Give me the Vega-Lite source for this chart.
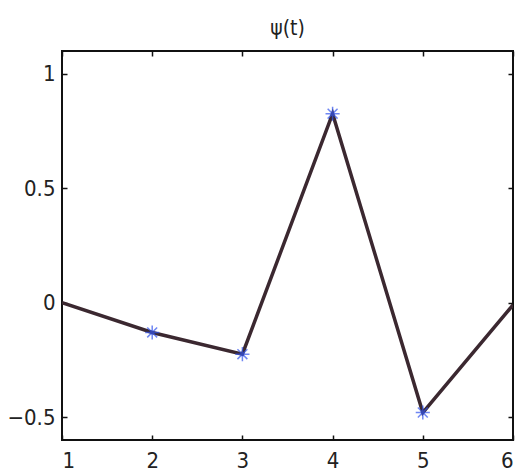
{
  "$schema": "https://vega.github.io/schema/vega-lite/v6.json",
  "autosize": "none",
  "width": 451,
  "height": 389,
  "padding": {"left": 62, "top": 51, "right": 4, "bottom": 34},
  "background": "white",
  "title": {"text": "ψ(t)", "fontSize": 21, "font": "DejaVu Sans Condensed, sans-serif", "fontWeight": "normal", "color": "#222", "offset": 11},
  "config": {
    "view": {"stroke": "#111", "strokeWidth": 2},
    "axis": {"grid": false, "domain": false, "tickColor": "#111", "tickWidth": 1.5, "tickSize": -5, "labelFont": "DejaVu Sans Condensed, sans-serif", "labelFontSize": 22, "labelColor": "#222", "title": null}
  },
  "data": {"values": [
    {"t": 1, "psi": 0},
    {"t": 2, "psi": -0.13},
    {"t": 3, "psi": -0.225},
    {"t": 4, "psi": 0.826},
    {"t": 5, "psi": -0.48},
    {"t": 6, "psi": -0.01}
  ]},
  "resolve": {"axis": {"x": "independent", "y": "independent"}},
  "layer": [
    {
      "mark": {"type": "line", "color": "#3b2830", "strokeWidth": 3.5, "clip": true},
      "encoding": {
        "x": {"field": "t", "type": "quantitative", "scale": {"domain": [1, 6], "nice": false}, "axis": {"values": [1, 2, 3, 4, 5, 6], "labelPadding": 15, "format": "d"}},
        "y": {"field": "psi", "type": "quantitative", "scale": {"domain": [-0.6, 1.1], "nice": false, "zero": false}, "axis": {"values": [-0.5, 0, 0.5, 1], "labelPadding": 12, "labelExpr": "datum.value == 0 ? '0' : datum.value == 1 ? '1' : format(datum.value, '.1f')"}}
      }
    },
    {
      "transform": [{"filter": "datum.t > 1 && datum.t < 6"}],
      "mark": {"type": "point", "shape": "M -1 0 L 1 0 M 0 -1 L 0 1 M -0.7 -0.7 L 0.7 0.7 M -0.7 0.7 L 0.7 -0.7", "filled": false, "stroke": "#3355ee", "strokeWidth": 1.5, "size": 200},
      "encoding": {
        "x": {"field": "t", "type": "quantitative", "axis": {"orient": "top", "values": [1, 2, 3, 4, 5, 6], "labels": false}},
        "y": {"field": "psi", "type": "quantitative", "axis": {"orient": "right", "values": [-0.5, 0, 0.5, 1], "labels": false}}
      }
    }
  ]
}
